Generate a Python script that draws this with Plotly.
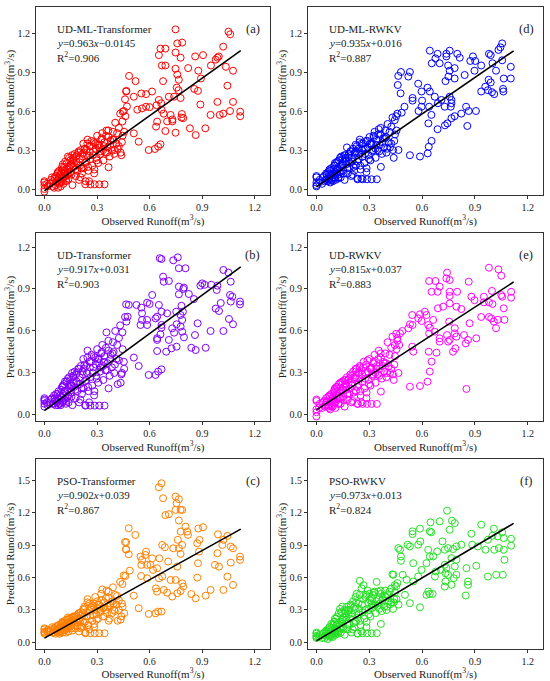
import plotly.graph_objects as go

# ---------------- data ----------------
# observed runoff, dense low-flow region (shared by all models)
obs_low = [0.000, 0.000, 0.000, 0.000, 0.000, 0.018, 0.032, 0.043, 0.051, 0.055,
           0.060, 0.064, 0.067, 0.071, 0.074, 0.078, 0.081, 0.084, 0.086, 0.090,
           0.093, 0.096, 0.099, 0.102, 0.105, 0.108, 0.112, 0.115, 0.119, 0.123,
           0.127, 0.131, 0.134, 0.138, 0.142, 0.147, 0.151, 0.156, 0.160, 0.164,
           0.169, 0.173, 0.178, 0.183, 0.188, 0.193, 0.198, 0.203, 0.208, 0.214,
           0.219, 0.224, 0.229, 0.235, 0.240, 0.246, 0.251, 0.257, 0.262, 0.268,
           0.273, 0.279, 0.284, 0.290, 0.296, 0.301, 0.307, 0.313, 0.318, 0.324,
           0.330, 0.336, 0.342, 0.348, 0.354, 0.360, 0.366, 0.372, 0.378, 0.385,
           0.391, 0.398, 0.404, 0.411, 0.418, 0.425, 0.432, 0.439, 0.446, 0.453,
           0.460, 0.466, 0.233, 0.262, 0.287, 0.313, 0.343, 0.366, 0.255, 0.285,
           0.105, 0.125, 0.145, 0.165, 0.185, 0.205, 0.225, 0.245, 0.305, 0.335,
           0.365, 0.395, 0.425, 0.445, 0.455, 0.435]
obs_low2 = [0.015, 0.038, 0.047, 0.058, 0.069, 0.076, 0.083, 0.088, 0.095, 0.101,
            0.107, 0.114, 0.118, 0.122, 0.129, 0.136, 0.141, 0.149, 0.154, 0.158,
            0.167, 0.176, 0.181, 0.191, 0.196, 0.201, 0.211, 0.217, 0.222, 0.232,
            0.238, 0.243, 0.249, 0.259, 0.266, 0.276, 0.282, 0.293, 0.298, 0.311,
            0.321, 0.327, 0.339, 0.351, 0.357, 0.375, 0.388, 0.402, 0.415, 0.442]

pred_low_a = [0.06, 0.03, 0.00, -0.02, 0.05, 0.02, 0.04, 0.09, 0.06, 0.01,
              0.08, 0.03, 0.10, 0.05, 0.12, 0.01, 0.07, 0.14, 0.04, 0.11,
              0.02, 0.13, 0.06, 0.15, 0.09, 0.04, 0.17, 0.10, 0.13, 0.06,
              0.20, 0.11, 0.25, 0.08, 0.16, 0.22, 0.13, 0.19, 0.03, 0.24,
              0.17, 0.27, 0.10, 0.21, 0.14, 0.28, 0.07, 0.18, 0.30, 0.12,
              0.25, 0.16, 0.31, 0.06, 0.21, 0.38, 0.14, 0.33, 0.23, 0.37,
              0.18, 0.29, 0.12, 0.35, 0.24, 0.41, 0.20, 0.32, 0.27, 0.38,
              0.43, 0.22, 0.36, 0.28, 0.45, 0.32, 0.40, 0.25, 0.37, 0.30,
              0.44, 0.27, 0.51, 0.35, 0.31, 0.47, 0.58, 0.26, 0.41, 0.60,
              0.69, 0.75, 0.036, 0.036, 0.036, 0.036, 0.036, 0.167, 0.06, 0.15,
              0.19, 0.07, 0.18, 0.23, 0.26, 0.09, 0.28, 0.35, 0.34, 0.30,
              0.45, 0.38, 0.33, 0.52, 0.44, 0.28]
pred_low2_a = [0.04, 0.07, 0.02, 0.09, 0.06, 0.13, 0.09, 0.05, 0.11, 0.17,
               0.08, 0.14, 0.21, 0.10, 0.15, 0.12, 0.24, 0.18, 0.11, 0.26,
               0.20, 0.15, 0.25, 0.19, 0.29, 0.23, 0.16, 0.27, 0.35, 0.20,
               0.30, 0.26, 0.17, 0.29, 0.33, 0.26, 0.36, 0.31, 0.22, 0.34,
               0.29, 0.39, 0.33, 0.41, 0.28, 0.34, 0.38, 0.30, 0.43, 0.36]

pred_low_b = [0.10, 0.12, 0.06, 0.08, 0.11, 0.07, 0.09, 0.12, 0.08, 0.14,
              0.10, 0.07, 0.15, 0.09, 0.12, 0.07, 0.17, 0.11, 0.08, 0.14,
              0.07, 0.18, 0.12, 0.20, 0.09, 0.15, 0.22, 0.11, 0.17, 0.08,
              0.24, 0.13, 0.26, 0.09, 0.19, 0.25, 0.16, 0.21, 0.07, 0.28,
              0.20, 0.31, 0.12, 0.24, 0.17, 0.33, 0.09, 0.22, 0.35, 0.15,
              0.29, 0.19, 0.36, 0.07, 0.25, 0.46, 0.17, 0.38, 0.27, 0.43,
              0.21, 0.34, 0.14, 0.41, 0.28, 0.47, 0.23, 0.37, 0.31, 0.44,
              0.50, 0.25, 0.42, 0.32, 0.59, 0.37, 0.46, 0.28, 0.43, 0.34,
              0.52, 0.30, 0.60, 0.40, 0.22, 0.55, 0.64, 0.29, 0.47, 0.38,
              0.70, 0.79, 0.067, 0.067, 0.067, 0.067, 0.067, 0.19, 0.09, 0.17,
              0.21, 0.10, 0.22, 0.27, 0.30, 0.11, 0.33, 0.41, 0.40, 0.35,
              0.53, 0.45, 0.39, 0.59, 0.33, 0.23]
pred_low2_b = [0.09, 0.11, 0.08, 0.12, 0.09, 0.15, 0.11, 0.08, 0.13, 0.20,
               0.10, 0.17, 0.24, 0.12, 0.18, 0.14, 0.27, 0.21, 0.13, 0.30,
               0.23, 0.18, 0.29, 0.22, 0.33, 0.27, 0.19, 0.31, 0.40, 0.24,
               0.35, 0.30, 0.20, 0.34, 0.38, 0.30, 0.42, 0.36, 0.26, 0.40,
               0.34, 0.45, 0.38, 0.48, 0.32, 0.40, 0.44, 0.36, 0.50, 0.30]

pred_low_c = [0.13, 0.08, 0.10, 0.12, 0.09, 0.11, 0.10, 0.14, 0.09, 0.13,
              0.11, 0.08, 0.15, 0.10, 0.13, 0.09, 0.16, 0.12, 0.08, 0.14,
              0.10, 0.17, 0.12, 0.19, 0.09, 0.15, 0.18, 0.11, 0.16, 0.09,
              0.21, 0.13, 0.23, 0.10, 0.18, 0.22, 0.15, 0.20, 0.11, 0.24,
              0.17, 0.24, 0.13, 0.21, 0.15, 0.26, 0.10, 0.19, 0.28, 0.14,
              0.27, 0.18, 0.33, 0.09, 0.24, 0.40, 0.16, 0.36, 0.25, 0.32,
              0.20, 0.34, 0.14, 0.42, 0.26, 0.38, 0.22, 0.31, 0.28, 0.45,
              0.49, 0.24, 0.37, 0.30, 0.48, 0.33, 0.41, 0.22, 0.36, 0.27,
              0.51, 0.30, 0.44, 0.35, 0.20, 0.39, 0.56, 0.24, 0.33, 0.62,
              0.93, 0.86, 0.084, 0.084, 0.084, 0.084, 0.084, 0.20, 0.12, 0.17,
              0.18, 0.12, 0.19, 0.23, 0.25, 0.13, 0.30, 0.37, 0.35, 0.32,
              0.47, 0.36, 0.30, 0.54, 0.27, 0.21]
pred_low2_c = [0.10, 0.12, 0.09, 0.13, 0.11, 0.15, 0.12, 0.10, 0.14, 0.18,
               0.11, 0.16, 0.20, 0.13, 0.17, 0.14, 0.22, 0.19, 0.13, 0.23,
               0.19, 0.16, 0.24, 0.18, 0.27, 0.22, 0.15, 0.25, 0.31, 0.19,
               0.28, 0.24, 0.16, 0.29, 0.33, 0.25, 0.36, 0.30, 0.21, 0.35,
               0.29, 0.39, 0.32, 0.41, 0.27, 0.34, 0.38, 0.29, 0.43, 0.36]

pred_low_d = [0.09, 0.03, 0.10, 0.02, 0.05, 0.07, 0.04, 0.10, 0.07, 0.12,
              0.08, 0.06, 0.13, 0.07, 0.15, 0.05, 0.10, 0.16, 0.07, 0.12,
              0.06, 0.15, 0.09, 0.18, 0.11, 0.07, 0.20, 0.12, 0.16, 0.08,
              0.22, 0.13, 0.24, 0.09, 0.18, 0.23, 0.14, 0.21, 0.07, 0.26,
              0.19, 0.32, 0.12, 0.24, 0.16, 0.29, 0.10, 0.21, 0.31, 0.14,
              0.27, 0.18, 0.33, 0.08, 0.23, 0.38, 0.15, 0.35, 0.25, 0.31,
              0.20, 0.31, 0.13, 0.37, 0.26, 0.40, 0.22, 0.34, 0.29, 0.41,
              0.44, 0.24, 0.38, 0.30, 0.46, 0.34, 0.42, 0.27, 0.39, 0.32,
              0.45, 0.28, 0.50, 0.36, 0.32, 0.48, 0.55, 0.24, 0.42, 0.56,
              0.58, 0.30, 0.075, 0.075, 0.075, 0.075, 0.075, 0.17, 0.08, 0.16,
              0.20, 0.09, 0.19, 0.24, 0.27, 0.11, 0.29, 0.36, 0.35, 0.31,
              0.47, 0.40, 0.35, 0.53, 0.45, 0.30]
pred_low2_d = [0.05, 0.09, 0.06, 0.11, 0.08, 0.14, 0.10, 0.07, 0.12, 0.18,
               0.09, 0.15, 0.21, 0.11, 0.16, 0.13, 0.25, 0.19, 0.12, 0.26,
               0.21, 0.16, 0.26, 0.20, 0.29, 0.24, 0.17, 0.28, 0.34, 0.21,
               0.31, 0.27, 0.18, 0.30, 0.35, 0.27, 0.37, 0.32, 0.23, 0.35,
               0.30, 0.40, 0.34, 0.42, 0.29, 0.36, 0.39, 0.31, 0.44, 0.37]

pred_low_e = [0.10, 0.11, 0.02, -0.01, 0.04, 0.08, 0.05, 0.10, 0.07, 0.12,
              0.09, 0.06, 0.13, 0.05, 0.14, 0.04, 0.10, 0.15, 0.07, 0.12,
              0.06, 0.16, 0.09, 0.18, 0.11, 0.05, 0.20, 0.12, 0.17, 0.08,
              0.22, 0.12, 0.23, 0.08, 0.17, 0.24, 0.13, 0.20, 0.06, 0.25,
              0.18, 0.27, 0.11, 0.23, 0.15, 0.29, 0.09, 0.21, 0.31, 0.13,
              0.26, 0.17, 0.33, 0.08, 0.22, 0.35, 0.14, 0.32, 0.24, 0.38,
              0.19, 0.30, 0.12, 0.39, 0.25, 0.40, 0.21, 0.33, 0.28, 0.37,
              0.43, 0.23, 0.35, 0.29, 0.46, 0.33, 0.41, 0.26, 0.38, 0.31,
              0.44, 0.27, 0.52, 0.35, 0.30, 0.48, 0.56, 0.25, 0.42, 0.58,
              0.55, 0.30, 0.079, 0.079, 0.079, 0.079, 0.079, 0.167, 0.09, 0.16,
              0.19, 0.08, 0.18, 0.22, 0.26, 0.10, 0.28, 0.34, 0.33, 0.30,
              0.44, 0.37, 0.33, 0.50, 0.47, 0.29]
pred_low2_e = [0.05, 0.09, 0.06, 0.10, 0.07, 0.13, 0.10, 0.06, 0.12, 0.17,
               0.09, 0.14, 0.20, 0.11, 0.16, 0.12, 0.23, 0.18, 0.11, 0.25,
               0.20, 0.15, 0.25, 0.19, 0.28, 0.23, 0.16, 0.27, 0.33, 0.20,
               0.30, 0.26, 0.17, 0.29, 0.34, 0.26, 0.36, 0.31, 0.22, 0.34,
               0.29, 0.38, 0.33, 0.40, 0.28, 0.35, 0.37, 0.30, 0.43, 0.36]

pred_low_f = [0.09, 0.06, 0.04, 0.08, 0.05, 0.07, 0.04, 0.09, 0.06, 0.11,
              0.08, 0.03, 0.12, 0.06, 0.14, 0.05, 0.09, 0.17, 0.07, 0.13,
              0.05, 0.16, 0.09, 0.19, 0.11, 0.07, 0.22, 0.12, 0.18, 0.08,
              0.27, 0.13, 0.31, 0.09, 0.19, 0.33, 0.14, 0.23, 0.07, 0.29,
              0.21, 0.33, 0.12, 0.26, 0.16, 0.35, 0.09, 0.24, 0.38, 0.14,
              0.31, 0.19, 0.45, 0.08, 0.26, 0.57, 0.16, 0.50, 0.28, 0.53,
              0.22, 0.42, 0.14, 0.48, 0.30, 0.45, 0.24, 0.36, 0.32, 0.44,
              0.47, 0.27, 0.56, 0.34, 0.40, 0.36, 0.45, 0.29, 0.41, 0.33,
              0.48, 0.30, 0.44, 0.38, 0.35, 0.50, 0.63, 0.37, 0.46, 0.52,
              0.55, 0.35, 0.084, 0.084, 0.084, 0.084, 0.084, 0.17, 0.10, 0.19,
              0.22, 0.10, 0.21, 0.27, 0.30, 0.12, 0.37, 0.44, 0.39, 0.35,
              0.48, 0.42, 0.37, 0.53, 0.40, 0.31]
pred_low2_f = [0.05, 0.08, 0.04, 0.10, 0.07, 0.14, 0.10, 0.06, 0.12, 0.19,
               0.09, 0.16, 0.24, 0.11, 0.18, 0.13, 0.28, 0.21, 0.12, 0.30,
               0.23, 0.17, 0.30, 0.22, 0.34, 0.27, 0.18, 0.33, 0.42, 0.23,
               0.36, 0.31, 0.20, 0.35, 0.40, 0.30, 0.44, 0.37, 0.26, 0.41,
               0.34, 0.46, 0.38, 0.47, 0.31, 0.39, 0.43, 0.33, 0.47, 0.40]

# higher-flow (sparse) region, read per panel
obs_hi_a = [0.471, 0.483, 0.468, 0.462, 0.510, 0.510, 0.520, 0.530, 0.538, 0.553,
            0.557, 0.580, 0.580, 0.595, 0.600, 0.614, 0.630, 0.640, 0.637, 0.643,
            0.653, 0.649, 0.662, 0.653, 0.670, 0.662, 0.677, 0.690, 0.690, 0.700,
            0.710, 0.720, 0.730, 0.740, 0.730, 0.748, 0.748, 0.748, 0.767, 0.758,
            0.755, 0.765, 0.758, 0.784, 0.786, 0.782, 0.792, 0.777, 0.777, 0.820,
            0.830, 0.860, 0.863, 0.878, 0.890, 0.893, 0.918, 0.948, 0.977, 0.987,
            0.995, 1.000, 1.020, 1.020, 1.035, 1.044, 1.050, 1.059, 1.060, 1.076,
            1.117, 1.117, 0.905, 0.950, 0.855, 0.876, 1.076, 0.748, 0.690, 0.668,
            0.680, 0.666, 0.447, 0.987]
pred_hi_a = [0.635, 0.870, 0.755, 0.560, 0.710, 0.428, 0.830, 0.610, 0.364, 0.735,
             0.620, 0.730, 0.633, 0.300, 0.630, 0.750, 0.308, 0.645, 0.480, 0.518,
             1.030, 0.326, 1.080, 0.685, 0.950, 0.344, 0.830, 0.950, 1.080, 0.520,
             0.710, 0.570, 0.535, 0.710, 0.520, 1.228, 1.050, 0.925, 0.840, 0.880,
             0.780, 0.760, 1.120, 0.577, 1.126, 0.550, 0.545, 0.700, 1.010, 0.930,
             0.467, 1.020, 0.415, 0.910, 0.650, 0.850, 0.467, 0.570, 0.995, 0.670,
             1.020, 0.570, 1.095, 0.580, 0.940, 0.795, 1.210, 0.600, 1.190, 0.910,
             0.595, 0.560, 1.030, 0.950, 0.770, 0.755, 0.670, 0.433, 0.446, 0.610,
             0.580, 0.660, 0.595, 1.010]

obs_hi_b = [0.668, 0.658, 0.761, 0.735, 0.767, 0.805, 0.677, 0.710, 0.681, 0.796,
            0.792, 0.767, 0.767, 0.824, 0.900, 0.890, 0.914, 0.952, 0.987, 0.983,
            1.021, 1.050, 1.063, 1.059, 1.072, 1.063, 1.006, 0.996, 0.977, 1.116,
            1.116, 0.853, 0.481, 0.525, 0.553, 0.615, 0.586, 0.600, 0.653, 0.668,
            0.700, 0.752, 0.782, 0.790, 0.643, 0.634, 0.557, 0.557, 0.475, 0.468,
            0.586, 0.777, 0.786, 0.548, 0.586, 0.668, 0.668, 0.729, 0.777, 0.754,
            0.740, 0.786, 0.662, 0.710, 0.859, 0.874, 0.948, 1.021, 1.076, 1.053,
            0.796, 0.643, 0.643, 0.725, 0.754, 0.643, 0.695, 0.863, 0.838, 0.920,
            0.510, 0.538, 0.595, 0.634, 0.649, 0.668]
pred_hi_b = [1.114, 1.120, 1.126, 1.105, 1.048, 1.048, 0.988, 0.957, 0.952, 0.910,
             0.900, 0.917, 0.862, 0.864, 0.940, 0.924, 0.930, 0.930, 0.924, 0.893,
             1.036, 1.017, 0.952, 0.857, 0.845, 0.810, 0.800, 0.743, 0.760, 0.810,
             0.790, 0.828, 0.786, 0.786, 0.767, 0.857, 0.802, 0.793, 0.786, 0.738,
             0.726, 0.738, 0.780, 0.738, 0.702, 0.690, 0.726, 0.679, 0.702, 0.667,
             0.679, 0.714, 0.679, 0.643, 0.643, 0.643, 0.624, 0.619, 0.631, 0.648,
             0.588, 0.595, 0.576, 0.536, 0.571, 0.655, 0.600, 0.600, 0.648, 0.686,
             0.555, 0.548, 0.536, 0.476, 0.488, 0.457, 0.452, 0.464, 0.480, 0.480,
             0.410, 0.350, 0.286, 0.286, 0.310, 0.326]

obs_hi_c = [0.668, 0.653, 0.677, 0.748, 0.767, 0.754, 0.748, 0.777, 0.786, 0.690,
            0.710, 0.767, 0.481, 0.805, 0.815, 0.777, 0.878, 0.905, 0.519, 0.990,
            1.044, 1.021, 0.819, 0.761, 0.466, 0.885, 0.872, 0.672, 0.687, 0.786,
            0.767, 1.015, 1.063, 1.076, 0.466, 0.481, 0.580, 0.576, 0.735, 0.882,
            0.987, 0.548, 0.557, 0.615, 0.656, 0.777, 0.706, 0.758, 0.553, 0.586,
            0.605, 1.116, 1.116, 1.063, 0.487, 0.643, 0.973, 0.996, 0.876, 0.462,
            0.552, 0.653, 0.672, 0.620, 0.586, 0.720, 0.748, 0.872, 1.044, 0.786,
            0.792, 0.636, 0.643, 0.681, 0.700, 0.777, 0.758, 0.729, 0.838, 0.863,
            0.920, 0.948, 1.021, 1.076, 0.510, 0.538, 0.595, 0.634, 0.649, 0.668]
pred_hi_c = [1.475, 1.438, 1.336, 1.352, 1.327, 1.290, 1.228, 1.228, 1.228, 1.180,
             1.188, 1.130, 1.058, 1.073, 1.027, 1.027, 1.055, 1.067, 0.996, 1.002,
             0.987, 0.950, 0.996, 0.950, 0.928, 0.950, 0.919, 0.903, 0.882, 0.903,
             0.872, 0.903, 0.888, 0.872, 0.863, 0.817, 0.841, 0.810, 0.872, 0.841,
             0.826, 0.795, 0.764, 0.779, 0.779, 0.820, 0.749, 0.702, 0.718, 0.718,
             0.718, 0.795, 0.764, 0.739, 0.665, 0.687, 0.718, 0.702, 0.733, 0.615,
             0.615, 0.594, 0.609, 0.671, 0.594, 0.578, 0.578, 0.600, 0.609, 0.547,
             0.517, 0.500, 0.470, 0.486, 0.460, 0.476, 0.455, 0.424, 0.448, 0.408,
             0.433, 0.486, 0.486, 0.532, 0.433, 0.316, 0.263, 0.269, 0.285, 0.285]

obs_hi_d = [1.055, 1.045, 1.034, 0.757, 0.644, 0.688, 0.738, 0.800, 0.980, 0.990,
            0.889, 0.738, 0.676, 0.814, 0.655, 0.700, 0.874, 0.902, 0.748, 0.757,
            1.000, 1.055, 0.531, 0.480, 0.785, 0.898, 0.936, 1.020, 1.104, 0.465,
            0.462, 0.522, 0.750, 0.785, 0.733, 1.064, 1.104, 0.842, 0.978, 0.990,
            0.578, 0.478, 0.631, 0.644, 0.959, 0.974, 0.997, 1.010, 1.060, 1.062,
            0.936, 0.597, 0.546, 0.546, 0.672, 0.710, 0.767, 0.757, 0.767, 0.690,
            0.729, 0.763, 0.597, 0.640, 0.484, 0.850, 0.865, 0.906, 0.500, 0.653,
            0.785, 0.767, 0.823, 0.636, 0.730, 0.744, 0.857, 0.688, 0.654, 0.638,
            0.632, 0.588, 0.531, 0.600, 0.580]
pred_hi_d = [1.120, 1.090, 1.070, 1.064, 1.064, 1.040, 1.040, 1.040, 1.040, 1.030,
             1.020, 1.020, 1.005, 1.010, 0.967, 0.967, 0.985, 0.985, 0.950, 0.910,
             0.967, 0.990, 0.900, 0.900, 0.930, 0.910, 0.950, 0.910, 0.940, 0.870,
             0.800, 0.865, 0.865, 0.850, 0.830, 0.850, 0.850, 0.877, 0.840, 0.820,
             0.810, 0.736, 0.780, 0.750, 0.787, 0.760, 0.745, 0.730, 0.770, 0.750,
             0.750, 0.750, 0.700, 0.680, 0.710, 0.685, 0.685, 0.710, 0.660, 0.660,
             0.633, 0.633, 0.633, 0.633, 0.587, 0.633, 0.600, 0.600, 0.633, 0.570,
             0.560, 0.545, 0.580, 0.505, 0.490, 0.505, 0.485, 0.460, 0.370, 0.325,
             0.274, 0.250, 0.260, 0.680, 0.600]

obs_hi_e = [0.980, 1.034, 1.050, 0.742, 0.738, 0.757, 0.640, 0.676, 0.700, 0.865,
            0.688, 0.654, 0.757, 0.757, 0.799, 0.757, 0.880, 0.898, 0.951, 0.951,
            0.980, 1.000, 0.997, 1.050, 1.055, 1.106, 1.106, 1.064, 0.795, 0.823,
            0.690, 0.720, 0.936, 0.980, 0.993, 1.008, 1.030, 1.068, 1.020, 0.616,
            0.625, 0.588, 0.578, 0.544, 0.531, 0.546, 0.488, 0.475, 0.522, 0.597,
            0.635, 0.644, 0.663, 0.672, 0.640, 0.754, 0.786, 0.786, 0.742, 0.757,
            0.700, 0.700, 0.861, 0.838, 0.848, 0.908, 0.870, 0.795, 0.748, 0.638,
            0.682, 0.776, 0.789, 0.550, 0.544, 0.654, 0.644, 0.631, 0.531, 0.588,
            0.852, 0.460, 0.470]
pred_hi_e = [1.052, 1.040, 0.995, 1.017, 0.976, 0.964, 0.957, 0.957, 0.917, 0.952,
             0.880, 0.880, 0.880, 0.850, 0.880, 0.797, 0.845, 0.820, 0.845, 0.805,
             0.805, 0.793, 0.886, 0.857, 0.845, 0.880, 0.838, 0.762, 0.774, 0.757,
             0.762, 0.774, 0.700, 0.700, 0.690, 0.667, 0.680, 0.680, 0.620, 0.738,
             0.714, 0.719, 0.690, 0.714, 0.648, 0.643, 0.600, 0.583, 0.619, 0.671,
             0.643, 0.624, 0.679, 0.595, 0.583, 0.667, 0.620, 0.583, 0.571, 0.536,
             0.548, 0.524, 0.536, 0.571, 0.512, 0.548, 0.655, 0.560, 0.524, 0.452,
             0.445, 0.452, 0.476, 0.452, 0.488, 0.381, 0.310, 0.238, 0.202, 0.207,
             0.186, 0.530, 0.500]

obs_hi_f = [0.742, 0.770, 0.786, 0.700, 0.648, 0.936, 1.008, 0.588, 0.546, 0.546,
            0.644, 0.652, 0.880, 0.757, 1.000, 1.055, 1.030, 1.064, 1.106, 0.716,
            0.823, 0.795, 0.748, 0.776, 0.518, 0.531, 0.578, 0.590, 0.885, 0.917,
            0.974, 0.960, 1.010, 1.036, 1.064, 1.106, 0.465, 0.475, 0.635, 0.644,
            0.663, 0.686, 0.729, 0.767, 0.480, 0.480, 0.795, 0.625, 0.550, 0.729,
            0.739, 0.678, 0.707, 0.786, 0.852, 0.908, 0.597, 0.673, 0.733, 0.748,
            0.795, 0.974, 1.021, 1.068, 1.059, 0.490, 0.512, 0.550, 0.578, 0.733,
            0.780, 0.767, 0.729, 0.861, 0.861, 0.848, 0.437, 0.503, 0.635, 0.644,
            0.660, 0.625, 0.531, 0.588]
pred_hi_f = [1.221, 1.128, 1.106, 1.122, 1.113, 1.091, 1.054, 1.054, 1.029, 1.004,
             1.029, 1.020, 1.007, 1.044, 0.988, 1.020, 0.982, 0.967, 0.960, 0.936,
             0.905, 0.889, 0.874, 0.865, 0.905, 0.889, 0.905, 0.936, 0.905, 0.889,
             0.951, 0.858, 0.858, 0.874, 0.858, 0.896, 0.874, 0.858, 0.858, 0.796,
             0.796, 0.843, 0.858, 0.781, 0.796, 0.756, 0.765, 0.734, 0.734, 0.719,
             0.688, 0.657, 0.672, 0.703, 0.688, 0.710, 0.672, 0.610, 0.641, 0.626,
             0.626, 0.610, 0.626, 0.765, 0.626, 0.626, 0.580, 0.564, 0.610, 0.564,
             0.595, 0.533, 0.517, 0.564, 0.533, 0.434, 0.626, 0.440, 0.471, 0.449,
             0.449, 0.440, 0.363, 0.325]

model_names = ["UD-ML-Transformer", "UD-ML-RWKV", "UD-Transformer",
               "UD-RWKV", "PSO-Transformer", "PSO-RWKV"]
panel_labels = ["(a)", "(d)", "(b)", "(e)", "(c)", "(f)"]
slopes = [0.963, 0.935, 0.917, 0.815, 0.902, 0.973]
intercepts = [-0.0145, 0.016, 0.031, 0.037, 0.039, 0.013]
intercept_text = ["−0.0145", "+0.016", "+0.031", "+0.037", "+0.039", "+0.013"]
r2_values = ["0.906", "0.887", "0.903", "0.883", "0.867", "0.824"]
colors = ["#FF0000", "#0000FF", "#8000FF", "#FF00FF", "#FF8000", "#22E022"]
x_ticks = [0.0, 0.3, 0.6, 0.9, 1.2]
y_ticks_top = [0.0, 0.3, 0.6, 0.9, 1.2]
y_ticks_bottom = [0.0, 0.3, 0.6, 0.9, 1.2, 1.5]
fit_x = [0.0, 1.12]

pred_low = [pred_low_a, pred_low_d, pred_low_b, pred_low_e, pred_low_c, pred_low_f]
pred_low2 = [pred_low2_a, pred_low2_d, pred_low2_b, pred_low2_e, pred_low2_c, pred_low2_f]
obs_hi = [obs_hi_a, obs_hi_d, obs_hi_b, obs_hi_e, obs_hi_c, obs_hi_f]
pred_hi = [pred_hi_a, pred_hi_d, pred_hi_b, pred_hi_e, pred_hi_c, pred_hi_f]

# ---------------- layout geometry ----------------
W, H = 550, 681
col_px = [(36, 270), (308, 543)]
row_px = [(7, 195), (233, 421), (459, 649)]
y_ranges = [[-0.046, 1.40], [-0.043, 1.30], [-0.062, 1.70]]
x_range = [-0.048, 1.287]

FONT = "Liberation Serif, Times New Roman, serif"
fig = go.Figure()
layout = dict(width=W, height=H, margin=dict(l=0, r=0, t=0, b=0),
              paper_bgcolor="white", plot_bgcolor="white", showlegend=False,
              font=dict(family=FONT, size=11, color="#222"))
annotations = []

for i in range(6):
    r, c = divmod(i, 2)
    ax = "" if i == 0 else str(i + 1)
    xd = [col_px[c][0] / W, col_px[c][1] / W]
    yd = [1 - row_px[r][1] / H, 1 - row_px[r][0] / H]
    fig.add_trace(go.Scatter(
        x=obs_low + obs_low2 + obs_hi[i], y=pred_low[i] + pred_low2[i] + pred_hi[i],
        mode="markers",
        marker=dict(symbol="circle-open", size=7, color=colors[i],
                    line=dict(width=1, color=colors[i])),
        xaxis="x" + ax, yaxis="y" + ax, hoverinfo="skip"))
    fig.add_trace(go.Scatter(
        x=fit_x, y=[slopes[i] * v + intercepts[i] for v in fit_x], mode="lines",
        line=dict(color="black", width=1.6),
        xaxis="x" + ax, yaxis="y" + ax, hoverinfo="skip"))
    axis_common = dict(showline=True, linecolor="#333", linewidth=1, mirror=True,
                       ticks="outside", ticklen=3, tickwidth=1, tickcolor="#333",
                       showgrid=False, zeroline=False, automargin=False,
                       tickfont=dict(family=FONT, size=10, color="#222"),
                       tickformat=".1f")
    layout["xaxis" + ax] = dict(axis_common, domain=xd, range=x_range,
                                tickvals=x_ticks, anchor="y" + ax,
                                title=dict(text="Observed Runoff(m<sup>3</sup>/s)",
                                           font=dict(family=FONT, size=11), standoff=3))
    layout["yaxis" + ax] = dict(axis_common, domain=yd, range=y_ranges[r],
                                tickvals=y_ticks_bottom if r == 2 else y_ticks_top,
                                anchor="x" + ax,
                                title=dict(text="Predicted Runoff(m<sup>3</sup>/s)",
                                           font=dict(family=FONT, size=11), standoff=0))
    xr, yr = "x" + ax + " domain", "y" + ax + " domain"
    ph = row_px[r][1] - row_px[r][0]
    pw = col_px[c][1] - col_px[c][0]
    lines = [model_names[i],
             "<i>y</i>=%.3f<i>x</i>%s" % (slopes[i], intercept_text[i]),
             "R<sup>2</sup>=" + r2_values[i]]
    offs = [22, 36, 50]
    for t, o in zip(lines, offs):
        annotations.append(dict(text=t, xref=xr, yref=yr, x=19 / pw, y=1 - o / ph,
                                xanchor="left", yanchor="middle", showarrow=False,
                                font=dict(family=FONT, size=11, color="#222")))
    annotations.append(dict(text=panel_labels[i], xref=xr, yref=yr, x=1 - 17 / pw,
                            y=1 - 22 / ph, xanchor="center", yanchor="middle",
                            showarrow=False, font=dict(family=FONT, size=12.5, color="#222")))

layout["annotations"] = annotations
fig.update_layout(**layout)
fig.write_html("out.html", config={"displayModeBar": False},
               post_script="document.body.style.margin='0px';")
